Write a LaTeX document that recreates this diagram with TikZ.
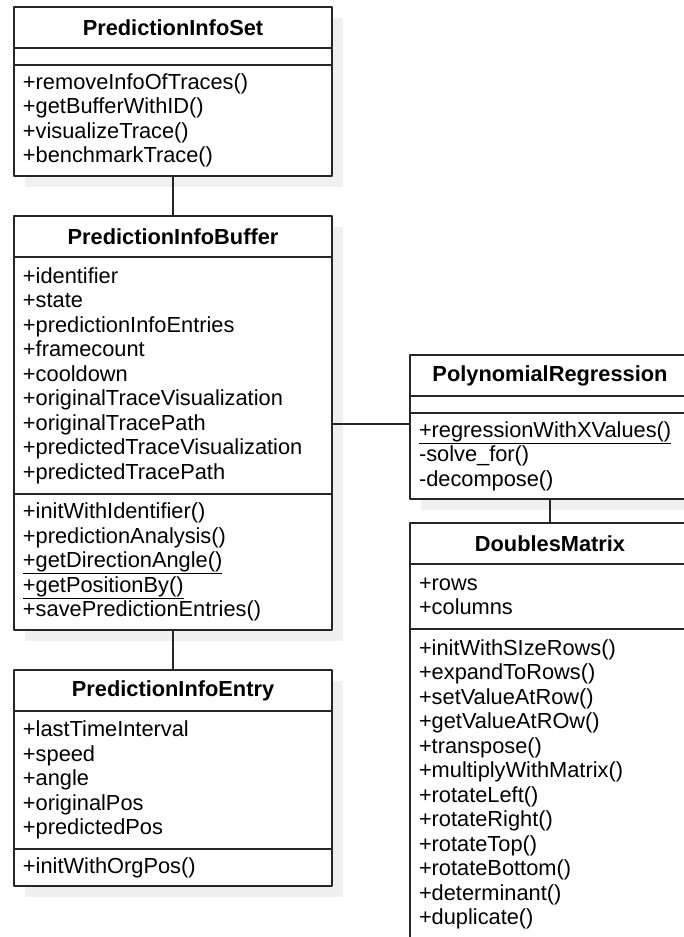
\documentclass[tikz,border=0pt]{standalone}
\usepackage{fontspec}
\setmainfont{Liberation Sans}
\usetikzlibrary{positioning,backgrounds}
\begin{document}
\begin{tikzpicture}[x=1pt,y=-1pt, line join=round,
	font=\fontsize{21.8pt}{24.5pt}\selectfont,
	umlpart/.style={draw=black!85, line width=1.2pt, fill=white, inner xsep=9pt, inner ysep=0pt, outer sep=0pt, align=left},
	lbox/.style={umlpart, text width=300pt},
	rbox/.style={umlpart, text width=262pt},
	umlhead/.style={font=\fontsize{21.8pt}{24.5pt}\selectfont\bfseries, align=center, minimum height=41pt},
	umllink/.style={draw=black!85, line width=1.2pt}]
	\useasboundingbox (0,0) rectangle (684,937);
	% linke Spalte
	\node[lbox, umlhead, anchor=north west] (set-head) at (14,7) {PredictionInfoSet};
	\node[lbox, minimum height=17pt, below=0pt of set-head] (set-attr) {};
	\node[lbox, minimum height=111pt, below=0pt of set-attr] (set-ops) {+removeInfoOfTraces()\\+getBufferWithID()\\+visualizeTrace()\\+benchmarkTrace()};
	
	\node[lbox, umlhead, anchor=north west] (buf-head) at (14,216) {PredictionInfoBuffer};
	\node[lbox, minimum height=237pt, below=0pt of buf-head] (buf-attr) {+identifier\\+state\\+predictionInfoEntries\\+framecount\\+cooldown\\+originalTraceVisualization\\+originalTracePath\\+predictedTraceVisualization\\+predictedTracePath};
	\node[lbox, minimum height=136pt, below=0pt of buf-attr] (buf-ops) {+initWithIdentifier()\\+predictionAnalysis()\\\underline{+getDirectionAngle()}\\\underline{+getPositionBy()}\\+savePredictionEntries()};
	
	\node[lbox, umlhead, anchor=north west] (ent-head) at (14,670) {PredictionInfoEntry};
	\node[lbox, minimum height=138pt, below=0pt of ent-head] (ent-attr) {+lastTimeInterval\\+speed\\+angle\\+originalPos\\+predictedPos};
	\node[lbox, minimum height=37pt, below=0pt of ent-attr] (ent-ops) {+initWithOrgPos()};
	% rechte Spalte
	\node[rbox, umlhead, anchor=north west] (poly-head) at (410,355) {PolynomialRegression};
	\node[rbox, minimum height=17pt, below=0pt of poly-head] (poly-attr) {};
	\node[rbox, minimum height=86pt, below=0pt of poly-attr] (poly-ops) {\underline{+regressionWithXValues()}\\-solve\_for()\\-decompose()};
	
	\node[rbox, umlhead, anchor=north west] (dm-head) at (410,523) {DoublesMatrix};
	\node[rbox, minimum height=65pt, below=0pt of dm-head] (dm-attr) {+rows\\+columns};
	\node[rbox, minimum height=311pt, below=0pt of dm-attr] (dm-ops) {+initWithSIzeRows()\\+expandToRows()\\+setValueAtRow()\\+getValueAtROw()\\+transpose()\\+multiplyWithMatrix()\\+rotateLeft()\\+rotateRight()\\+rotateTop()\\+rotateBottom()\\+determinant()\\+duplicate()};
	% Verbindungen
	\coordinate (reglink) at ([yshift=-11pt]poly-ops.north west);
	\draw[umllink] (set-ops.south) -- (buf-head.north);
	\draw[umllink] (buf-ops.south) -- (ent-head.north);
	\draw[umllink] (buf-attr.east |- reglink) -- (reglink);
	\draw[umllink] (poly-ops.south) -- (dm-head.north);
	% Schatten
	\begin{pgfonlayer}{background}
		\foreach \classtop/\classbot in {set-head/set-ops, buf-head/buf-ops, ent-head/ent-ops, poly-head/poly-ops, dm-head/dm-ops}
		\fill[black!6] ([shift={(11pt,-11pt)}]\classtop.north west) rectangle ([shift={(11pt,-11pt)}]\classbot.south east);
	\end{pgfonlayer}
\end{tikzpicture}
\end{document}
